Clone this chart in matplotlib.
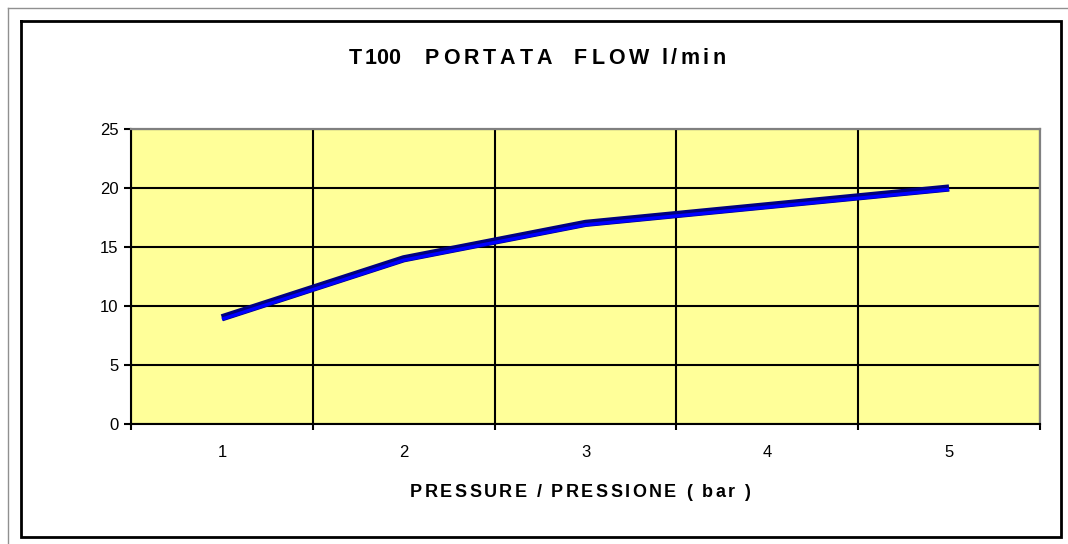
import matplotlib
matplotlib.use("Agg")
import matplotlib.pyplot as plt
import matplotlib.transforms as mtransforms
from matplotlib.lines import Line2D
from matplotlib.font_manager import FontProperties

plt.rcParams["font.family"] = ["Liberation Sans", "DejaVu Sans"]

# data
pressure = ["1", "2", "3", "4", "5"]
flow = [9, 14, 17, 18.5, 20]
y_ticks = [0, 5, 10, 15, 20, 25]
# title pieces with their letter spacing (px)
title_parts = [("T", 0), ("100", 0), ("PORTATA", 4), ("FLOW", 4), ("l/min", 3.5)]
title_gaps = [3, 24, 22, 12]
xlabel = "PRESSURE / PRESSIONE ( bar )"

W, H = 1068, 544
fig = plt.figure(figsize=(W / 100, H / 100), dpi=100)
r = fig.canvas.get_renderer()


def fx(x):
    return x / W


def fy(y):
    return 1 - y / H


def char_widths(s, prop):
    return [r.get_text_width_height_descent(ch, prop, ismath=False)[0] for ch in s]


def draw_spaced(s, x, base_y, prop, track):
    for ch, w in zip(s, char_widths(s, prop)):
        fig.text(fx(x), fy(base_y), ch, fontproperties=prop, ha="left", va="baseline")
        x += w + track
    return x - track


def spaced_width(s, prop, track):
    return sum(char_widths(s, prop)) + track * (len(s) - 1)


# outer frame
fig.add_artist(Line2D([fx(8), fx(W)], [fy(8), fy(8)], color="#909090", lw=1))
fig.add_artist(Line2D([fx(8), fx(8)], [fy(8), fy(H)], color="#909090", lw=1))
fig.add_artist(Line2D([fx(21), fx(1061), fx(1061), fx(21), fx(21)],
                      [fy(21), fy(21), fy(537), fy(537), fy(21)],
                      color="black", lw=2, solid_joinstyle="miter"))

ax = fig.add_axes([fx(131), fy(424), (1040 - 131) / W, (424 - 129) / H])
ax.set_facecolor("#FFFF99")

xs = list(range(len(pressure)))
ax.plot(xs, flow, color="#000080", lw=5.2, solid_capstyle="butt", zorder=3)
off = mtransforms.offset_copy(ax.transData, fig=fig, x=0, y=-1.0, units="points")
ax.plot(xs, flow, color="#0000FF", lw=2.4, solid_capstyle="butt", zorder=4, transform=off)

ax.set_xlim(-0.5, len(pressure) - 0.5)
ax.set_ylim(0, 25)
ax.set_xticks(xs)
ax.set_xticklabels(pressure)
ax.set_xticks([i - 0.5 for i in range(len(pressure) + 1)], minor=True)
ax.set_yticks(y_ticks)

ax.tick_params(axis="x", which="major", length=0, pad=15, labelsize=12)
ax.tick_params(axis="x", which="minor", length=4, width=1.5, direction="out", color="black")
ax.tick_params(axis="y", which="major", length=5, width=1.5, direction="out", pad=4, labelsize=12)

ax.grid(True, axis="x", which="minor", color="black", lw=1.5)
ax.grid(True, axis="y", which="major", color="black", lw=1.5)

for side in ["left", "bottom"]:
    ax.spines[side].set_color("black")
    ax.spines[side].set_linewidth(1.5)
for side in ["top", "right"]:
    ax.spines[side].set_color("#808080")
    ax.spines[side].set_linewidth(1.6)

# title
tprop = FontProperties(family=["Liberation Sans"], weight="bold", size=15.5)
total = sum(spaced_width(s, tprop, t) for s, t in title_parts) + sum(title_gaps)
x = 537 - total / 2
for i, (s, t) in enumerate(title_parts):
    x = draw_spaced(s, x, 64, tprop, t)
    if i < len(title_gaps):
        x += title_gaps[i]

# x axis title
lprop = FontProperties(family=["Liberation Sans"], weight="bold", size=13)
draw_spaced(xlabel, 580 - spaced_width(xlabel, lprop, 2.4) / 2, 497, lprop, 2.4)

fig.savefig("out.png", dpi=100)
